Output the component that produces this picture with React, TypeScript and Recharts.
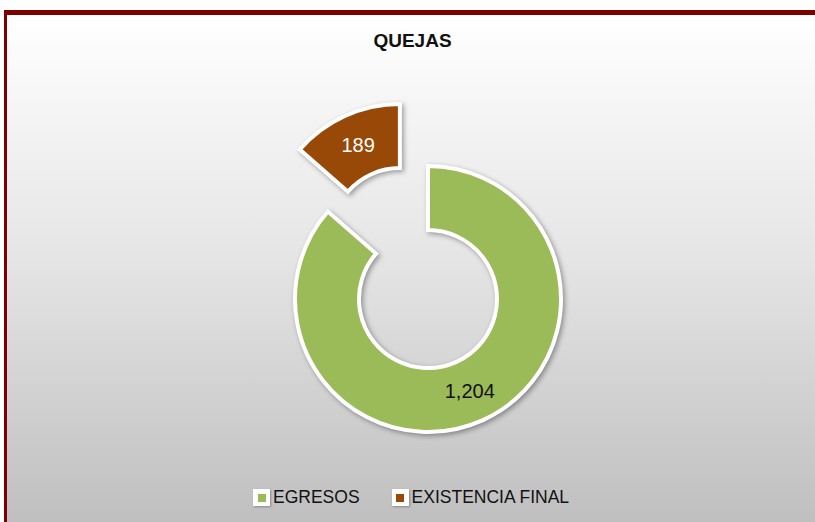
import React from 'react';
import { PieChart, Pie, Cell, Legend } from 'recharts';

// chart data
const categories = ['EGRESOS', 'EXISTENCIA FINAL'];
const values = [1204, 189];
const colors = ['#9BBB59', '#984807'];
const labelColors = ['#111111', '#ffffff'];
const explodedIndex = 1;
const title = 'QUEJAS';

const data = categories.map((name, i) => ({ name, value: values[i] }));

const W = 815;
const H = 522;
const CX = 428;
const CY = 299;
const INNER = 69;
const OUTER = 133;
const EXPLODE = 68;
const START = 90;
const END = -270;
const RADIAN = Math.PI / 180;
const FONT = '"Liberation Sans", Arial, sans-serif';

// shift the exploded slice outward along its bisector
const total = values.reduce((a, b) => a + b, 0);
const before = values.slice(0, explodedIndex).reduce((a, b) => a + b, 0);
const midAngle = START + ((END - START) * (before + values[explodedIndex] / 2)) / total;
const explodeCx = CX + EXPLODE * Math.cos(midAngle * RADIAN);
const explodeCy = CY - EXPLODE * Math.sin(midAngle * RADIAN);

const renderLabel = (visibleIndex: number) => (props: any) => {
  const { cx, cy, midAngle, innerRadius, outerRadius, index, value } = props;
  if (index !== visibleIndex) return null;
  const r = (innerRadius + outerRadius) / 2;
  const x = cx + r * Math.cos(-midAngle * RADIAN);
  const y = cy + r * Math.sin(-midAngle * RADIAN);
  return (
    <text
      x={x}
      y={y}
      fill={labelColors[index]}
      textAnchor="middle"
      dominantBaseline="central"
      fontSize={20}
      fontFamily={FONT}
    >
      {Number(value).toLocaleString('en-US')}
    </text>
  );
};

const renderLegend = () => (
  <div style={{ display: 'flex', alignItems: 'center', fontFamily: FONT, fontSize: 17.5, color: '#111' }}>
    {categories.map((c, i) => (
      <div key={c} style={{ display: 'flex', alignItems: 'center', marginRight: 32 }}>
        <span
          style={{
            width: 17,
            height: 17,
            background: '#fff',
            boxShadow: '1px 1px 2px rgba(0,0,0,0.3)',
            display: 'flex',
            alignItems: 'center',
            justifyContent: 'center',
            marginRight: 3,
          }}
        >
          <span style={{ width: 8, height: 8, background: colors[i] }} />
        </span>
        <span>{c}</span>
      </div>
    ))}
  </div>
);

export default function App() {
  return (
    <div style={{ position: 'absolute', left: 0, top: 0, width: W, height: H, background: '#fff', overflow: 'hidden' }}>
      <style>{`.recharts-pie-sector { filter: drop-shadow(2px 2px 2.5px rgba(0,0,0,0.35)); }`}</style>
      <div
        style={{
          position: 'absolute',
          left: 4,
          top: 10,
          width: W,
          height: H,
          borderTop: '5px solid #7c0000',
          borderLeft: '3px solid #7c0000',
          background: 'linear-gradient(to bottom, #ffffff 0%, #e6e6e6 45%, #bdbdbd 100%)',
        }}
      />
      <div
        style={{
          position: 'absolute',
          left: 0,
          width: W + 10,
          top: 30,
          textAlign: 'center',
          fontFamily: FONT,
          fontWeight: 'bold',
          fontSize: 19,
          color: '#111',
        }}
      >
        {title}
      </div>
      <div style={{ position: 'absolute', left: 0, top: 0 }}>
        <PieChart width={W} height={H} margin={{ top: 0, right: 0, bottom: 0, left: 0 }}>
          <Pie
            data={data}
            dataKey="value"
            nameKey="name"
            cx={CX}
            cy={CY}
            innerRadius={INNER}
            outerRadius={OUTER}
            startAngle={START}
            endAngle={END}
            labelLine={false}
            label={renderLabel(0)}
            isAnimationActive={false}
          >
            {data.map((d, i) => (
              <Cell
                key={`g-${i}`}
                fill={i === explodedIndex ? 'none' : colors[i]}
                stroke={i === explodedIndex ? 'none' : '#ffffff'}
                strokeWidth={4}
              />
            ))}
          </Pie>
          <Pie
            data={data}
            dataKey="value"
            nameKey="name"
            cx={explodeCx}
            cy={explodeCy}
            innerRadius={INNER}
            outerRadius={OUTER}
            startAngle={START}
            endAngle={END}
            labelLine={false}
            label={renderLabel(explodedIndex)}
            isAnimationActive={false}
          >
            {data.map((d, i) => (
              <Cell
                key={`e-${i}`}
                fill={i === explodedIndex ? colors[i] : 'none'}
                stroke={i === explodedIndex ? '#ffffff' : 'none'}
                strokeWidth={4}
              />
            ))}
          </Pie>
          <Legend
            content={renderLegend}
            wrapperStyle={{ left: 253, top: 487, bottom: 'auto', width: 'auto' }}
          />
        </PieChart>
      </div>
    </div>
  );
}
